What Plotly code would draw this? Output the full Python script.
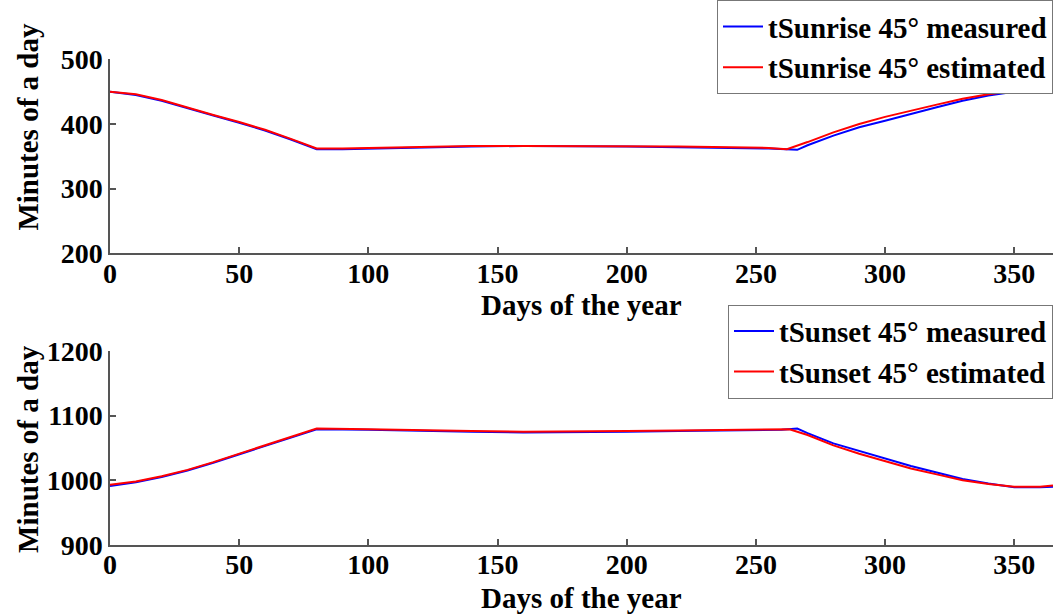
import plotly.graph_objects as go

# ---- data (minutes of a day) ----
days_rise_meas = [0, 10, 20, 30, 40, 50, 60, 70, 80, 90, 100, 110, 120, 140, 160, 180, 200, 220, 240, 255, 266,
                  270, 280, 290, 300, 310, 320, 330, 340, 350, 360, 365]
rise_meas = [450, 445, 436, 424, 413, 402, 390, 376, 361, 361, 362, 363, 364, 365, 366, 366, 365, 364, 363, 362, 360,
             367, 382, 395, 405, 416, 426, 436, 444, 450, 452, 452]

days_rise_est = [0, 10, 20, 30, 40, 50, 60, 70, 80, 90, 100, 110, 120, 140, 160, 180, 200, 220, 240, 255, 262,
                 270, 280, 290, 300, 310, 320, 330, 340, 350, 360, 365]
rise_est = [450, 446, 437, 425, 414, 403, 391, 377, 362, 362, 363, 364, 365, 366, 366, 366, 366, 365, 364, 363, 361,
            372, 387, 400, 411, 421, 430, 439, 446, 451, 452, 448]

days_set_meas = [0, 10, 20, 30, 40, 50, 60, 70, 80, 100, 120, 140, 160, 180, 200, 220, 240, 260, 266,
                 270, 280, 290, 300, 310, 320, 330, 340, 350, 360, 365]
set_meas = [991, 997, 1005, 1015, 1027, 1040, 1053, 1066, 1079, 1078, 1076, 1075, 1074, 1074, 1075, 1076, 1077, 1078, 1080,
            1073, 1057, 1045, 1034, 1022, 1012, 1002, 995, 989, 989, 990]

days_set_est = [0, 10, 20, 30, 40, 50, 60, 70, 80, 100, 120, 140, 160, 180, 200, 220, 240, 260, 263,
                270, 280, 290, 300, 310, 320, 330, 340, 350, 360, 365]
set_est = [993, 998, 1006, 1016, 1028, 1041, 1054, 1067, 1080, 1079, 1077, 1076, 1075, 1075, 1076, 1077, 1078, 1079, 1079,
           1070, 1054, 1041, 1030, 1018, 1009, 1000, 994, 990, 990, 992]

x_ticks = [0, 50, 100, 150, 200, 250, 300, 350]
y_ticks_top = [200, 300, 400, 500]
y_ticks_bot = [900, 1000, 1100, 1200]

FONT = "Liberation Serif"
W, H = 1055, 614
BLUE, RED = "#0000FF", "#FF0000"
AXC = "#555555"

fig = go.Figure()

fig.add_trace(go.Scatter(x=days_rise_meas, y=rise_meas, mode="lines", line=dict(color=BLUE, width=2),
                         name="tSunrise 45° measured", xaxis="x", yaxis="y", legend="legend"))
fig.add_trace(go.Scatter(x=days_rise_est, y=rise_est, mode="lines", line=dict(color=RED, width=2),
                         name="tSunrise 45° estimated", xaxis="x", yaxis="y", legend="legend"))
fig.add_trace(go.Scatter(x=days_set_meas, y=set_meas, mode="lines", line=dict(color=BLUE, width=2),
                         name="tSunset 45° measured", xaxis="x2", yaxis="y2", legend="legend2"))
fig.add_trace(go.Scatter(x=days_set_est, y=set_est, mode="lines", line=dict(color=RED, width=2),
                         name="tSunset 45° estimated", xaxis="x2", yaxis="y2", legend="legend2"))

xdom = [110 / W, 1053 / W]
ytop = [1 - 249 / H, 1 - 53 / H]
ybot = [1 - 544 / H, 1 - 348 / H]

tickfont = dict(family=FONT, size=28, color="black", weight="bold")

def xaxis(anchor):
    return dict(domain=xdom, range=[0, 365], tickvals=x_ticks, anchor=anchor, automargin=False,
                showline=True, linecolor=AXC, linewidth=1.5, ticks="inside", ticklen=6,
                tickcolor=AXC, tickwidth=1.5, showgrid=False, zeroline=False,
                tickfont=tickfont, ticklabelstandoff=-6, fixedrange=True)

def yaxis(dom, rng, tv, anchor):
    return dict(domain=dom, range=rng, tickvals=tv, anchor=anchor, automargin=False,
                showline=True, linecolor=AXC, linewidth=1.5, ticks="inside", ticklen=6,
                tickcolor=AXC, tickwidth=1.5, showgrid=False, zeroline=False,
                tickfont=tickfont, fixedrange=True)

legfont = dict(family=FONT, size=29, color="black", weight="bold")

fig.update_layout(
    template="none",
    width=W, height=H, autosize=False,
    margin=dict(l=0, r=0, t=0, b=0, pad=0),
    paper_bgcolor="white", plot_bgcolor="white",
    font=dict(family=FONT, color="black"),
    xaxis=xaxis("y"), yaxis=yaxis(ytop, [200, 500], y_ticks_top, "x"),
    xaxis2=xaxis("y2"), yaxis2=yaxis(ybot, [900, 1200], y_ticks_bot, "x2"),
    legend=dict(x=1053 / W, y=1 + 7 / H, xanchor="right", yanchor="top", font=legfont,
                bordercolor="#777777", borderwidth=1, bgcolor="white", itemwidth=40, tracegroupgap=0),
    legend2=dict(x=1053 / W, y=1 - 301 / H, xanchor="right", yanchor="top", font=legfont,
                 bordercolor="#777777", borderwidth=1, bgcolor="white", itemwidth=40, tracegroupgap=0),
    showlegend=True,
)

titlefont = dict(family=FONT, size=29, color="black", weight="bold")
ann = [
    dict(text="Days of the year", x=581 / W, y=1 - 301 / H),
    dict(text="Days of the year", x=581 / W, y=1 - 598 / H),
    dict(text="Minutes of a day", x=28 / W, y=1 - 121 / H, textangle=-90),
    dict(text="Minutes of a day", x=28 / W, y=1 - 447 / H, textangle=-90),
]
for a in ann:
    fig.add_annotation(xref="paper", yref="paper", xanchor="center", yanchor="middle",
                       showarrow=False, font=titlefont, **a)

fig.write_html("out.html", config={"displayModeBar": False},
               post_script="document.body.style.margin='0px';document.body.style.overflow='hidden';")
